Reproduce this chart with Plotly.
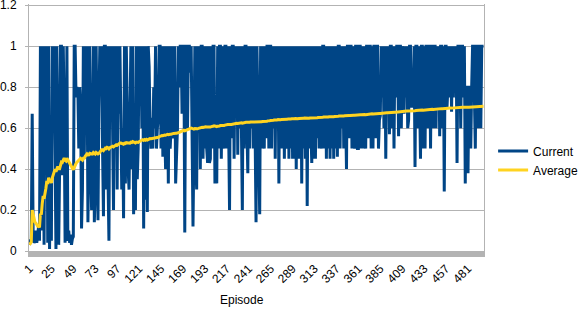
import numpy as np
import plotly.graph_objects as go

# ---- data ----
current = [
    # 1-12
    0.03, 0.05, 0.05, 0.67, 0.1, 0.04, 0.05, 0.1, 0.04, 0.08, 0.12, 0.05,
    # 13-25
    1, 0.1, 1, 0.82, 0.03, 1, 0.5, 1, 0.04, 1, 0.01, 0.37, 0.05,
    # 26-34
    1, 0.8, 1, 0.5, 0.01, 1, 0.6, 0.03, 0.4,
    # 35-42
    1, 1, 0.37, 1, 0.67, 0.04, 0.3, 1,
    # 43-49
    0.05, 0.1, 0.04, 0.08, 0.03, 0.06, 0.07,
    # 50-59
    1, 1, 0.75, 0.8, 0.78, 0.5, 0.8, 0.7, 0.11, 0.3,
    # 60-77
    1, 0.45, 1, 0.7, 1, 0.14, 0.5, 1, 0.45, 0.2, 0.5, 1, 0.14, 0.3, 1, 0.3, 0.15, 0.7,
    # 78-99
    1, 0.8, 1, 0.5, 0.17, 1, 1, 0.3, 1, 0.35, 0.05, 1, 0.75, 1, 0.4, 0.2, 1, 0.5, 1, 0.3, 1, 0.67,
    # 100-120
    1, 0.5, 0.3, 0.6, 0.16, 1, 0.33, 1, 0.5, 0.4, 0.3, 0.67, 1, 0.4, 1, 0.18, 0.5, 0.2, 1, 0.35, 0.5,
    # 121-142
    1, 0.75, 1, 0.6, 1, 0.11, 1, 0.25, 1, 0.19, 1, 0.9, 0.6, 0.5, 0.65, 0.5, 0.8, 0.6, 1, 0.5, 0.6, 0.65,
    # 143-163
    1, 1, 0.5, 1, 0.46, 1, 0.6, 0.4, 1, 0.8, 0.33, 1, 0.5, 0.6, 1, 0.55, 0.75, 1, 0.33, 0.5, 0.6,
    # 164-184
    1, 0.8, 1, 1, 0.67, 1, 1, 0.09, 1, 1, 0.6, 1, 1, 0.87, 1, 0.4, 0.12, 0.5, 1, 0.45, 0.3,
    # 185-253
    1, 0.8, 1, 0.4, 1, 1, 0.45, 1, 0.5, 1,
    0.5, 0.43, 1, 0.43, 0.45, 1, 0.5, 1, 1, 0.33,
    0.5, 0.33, 1, 0.5, 1, 1, 0.45, 1, 0.6, 0.5,
    1, 1, 0.5, 1, 0.6, 0.2, 1, 0.55, 1, 1,
    0.45, 1, 0.75, 1, 0.47, 1, 0.6, 1, 0.6, 0.2,
    1, 0.5, 1, 1, 0.6, 0.38, 1, 0.5, 1, 0.6,
    1, 0.5, 1, 0.55, 0.14, 1, 0.74, 0.5, 0.18,
    # 254-297
    1, 0.5, 1, 0.62, 0.5, 1, 0.55, 1, 1, 0.5,
    1, 1, 0.5, 1, 0.6, 1, 0.45, 1, 0.6, 1,
    0.33, 1, 0.5, 1, 0.5, 1, 0.45, 1, 0.55, 0.5,
    1, 0.45, 1, 0.5, 1, 0.45, 1, 0.45, 1, 0.4,
    1, 0.45, 1, 0.45,
    # 298-330
    1, 0.33, 1, 0.5, 1, 0.45, 1, 0.22, 1, 0.5,
    1, 0.6, 0.43, 1, 0.45, 1, 0.45, 1, 0.55, 1,
    0.5, 1, 0.6, 0.5, 1, 1, 0.5, 1, 0.45, 1,
    0.5, 1, 0.45,
    # 331-384
    1, 0.5, 1, 0.45, 1, 0.5, 1, 0.46, 1, 1,
    0.5, 1, 0.6, 1, 0.5, 1, 0.5, 0.4, 1, 1,
    0.55, 1, 1, 0.5, 1, 0.6, 0.5, 1, 1, 0.5,
    0.5, 1, 1, 0.5, 1, 0.5, 1, 0.55, 0.5, 1,
    1, 0.55, 1, 1, 0.5, 1, 0.5, 1, 1, 0.55,
    1, 1, 0.5, 0.64,
    # 385-439
    0.66, 1, 0.75, 1, 0.6, 1, 0.45, 1, 0.7, 1,
    0.57, 1, 1, 0.6, 1, 0.5, 1, 0.75, 1, 1,
    0.56, 1, 1, 0.6, 1, 0.94, 0.67, 1, 0.75, 1,
    0.6, 0.64, 1, 1, 0.7, 0.75, 0.7, 1, 0.41, 1,
    1, 0.6, 1, 0.75, 0.45, 1, 1, 0.5, 1, 0.5,
    1, 1, 0.6, 1, 1,
    # 440-498
    0.5, 1, 1, 0.6, 1, 1, 0.6, 1, 0.7, 1,
    0.56, 1, 1, 0.6, 1, 0.29, 1, 1, 0.7, 0.8,
    1, 0.75, 1, 0.68, 1, 0.75, 1, 0.8, 1, 0.43,
    1, 1, 1, 0.6, 1, 1, 0.75, 1, 0.33, 0.8,
    0.8, 0.38, 0.8, 0.8, 0.5, 0.8, 1, 1, 0.75, 0.5,
    1, 1, 0.6, 1, 1, 0.6, 1, 1, 1,
]
assert len(current) == 498, len(current)

episodes = list(range(1, len(current) + 1))
# running average of the current value
average = (np.cumsum(current) / np.arange(1, len(current) + 1)).tolist()

x_tick_values = list(range(1, 482, 24))
x_tick_labels = [str(v) for v in x_tick_values]
y_tick_values = [0, 0.2, 0.4, 0.6, 0.8, 1, 1.2]
y_tick_labels = ["0", "0.2", "0.4", "0.6", "0.8", "1", "1.2"]

FONT = "Liberation Sans"

fig = go.Figure()
fig.add_trace(go.Scatter(x=episodes, y=current, mode="lines", name="Current",
                         line=dict(color="#004586", width=3)))
fig.add_trace(go.Scatter(x=episodes, y=average, mode="lines", name="Average",
                         line=dict(color="#ffd320", width=3)))

fig.update_layout(
    width=582, height=311,
    margin=dict(l=29, r=98, t=4, b=60, autoexpand=False),
    paper_bgcolor="white", plot_bgcolor="white",
    font=dict(family=FONT, size=12, color="#000000"),
    showlegend=True,
    legend=dict(x=1.02, y=0.366, xanchor="left", yanchor="middle",
                font=dict(family=FONT, size=12, color="#000000"),
                bgcolor="rgba(0,0,0,0)", tracegroupgap=0, itemwidth=30),
    xaxis=dict(range=[0.5, 498.5], tickvals=x_tick_values, ticktext=x_tick_labels,
               tickangle=-45, showgrid=False, zeroline=False, automargin=False,
               showline=True, linecolor="#b3b3b3", linewidth=6,
               ticks="", tickfont=dict(family=FONT, size=12, color="#000000")),
    yaxis=dict(range=[0, 1.206], tickvals=y_tick_values, ticktext=y_tick_labels,
               showgrid=True, gridcolor="#b3b3b3", gridwidth=1, automargin=False,
               zeroline=False, showline=True, linecolor="#b3b3b3", linewidth=1,
               mirror=True, ticks="outside", ticklen=3, tickcolor="#b3b3b3",
               ticklabelstandoff=6, ticklabeloverflow="allow",
               tickfont=dict(family=FONT, size=12, color="#000000")),
    annotations=[dict(text="Episode", xref="paper", yref="paper",
                      x=0.468, y=-0.199, xanchor="center", yanchor="middle",
                      showarrow=False, font=dict(family=FONT, size=12, color="#000000"))],
)

fig.write_html("out.html", config={"displayModeBar": False},
               post_script="document.body.style.margin='0px';")
